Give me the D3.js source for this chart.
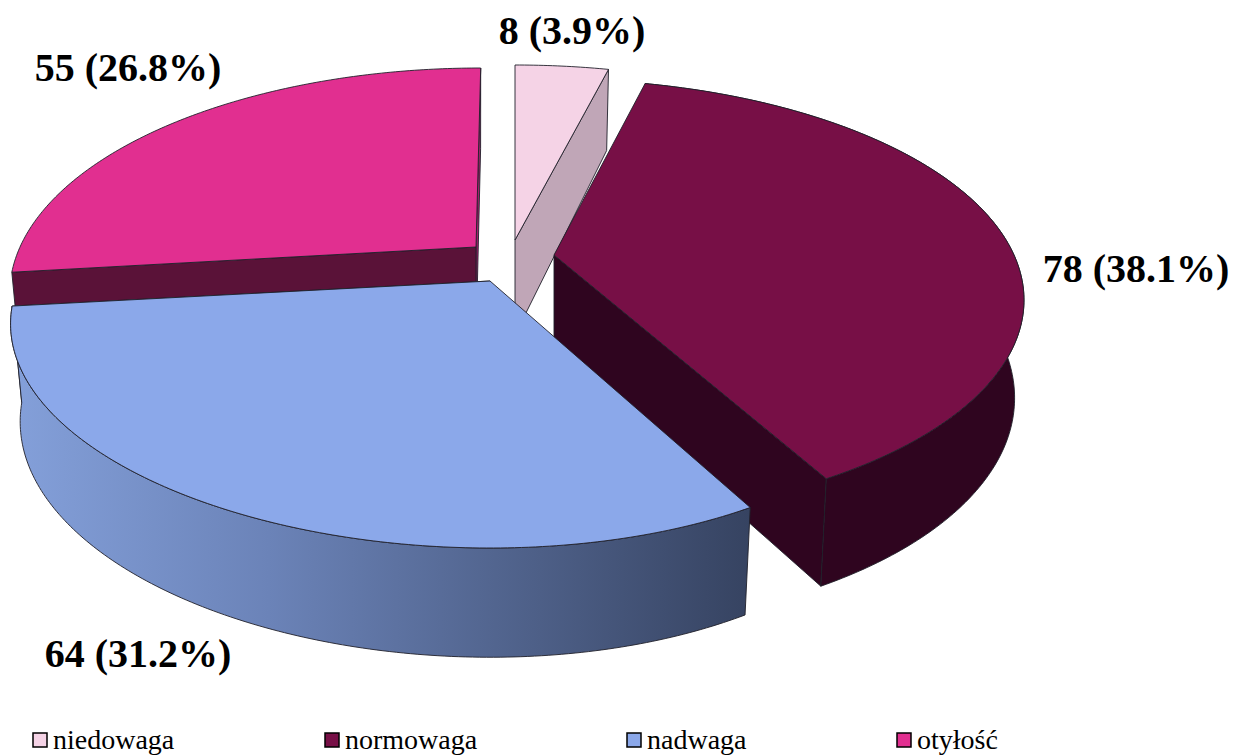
<!DOCTYPE html>
<html><head><meta charset="utf-8">
<script src="https://cdn.jsdelivr.net/npm/d3@7/dist/d3.min.js"></script>
<style>html,body{margin:0;padding:0;background:#fff}svg{display:block}</style>
</head><body><svg id="c" width="1248" height="756"></svg>
<script>
const categories = ["niedowaga","normowaga","nadwaga","otyłość"];
const values = [8,78,64,55];
const valueLabels = ["8 (3.9%)","78 (38.1%)","64 (31.2%)","55 (26.8%)"];
const topColors = ["#f5d3e6","#770f46","#8ba8ea","#e12f90"];
const startCutColors = [null,null,null,"#5a1238"];
const endCutColors = ["#c0a6b7","#2f051f","#3a4663","#a01f6c"];
const rimColors = [null,"#2f051f","url(#rimBlue)",null];
const apexX = [515,554,490,476];
const apexY = [240,255,281,247];
const radiusX = [460,460,452,456];
const radiusY = [210,211,213.6,214.8];
const asym = [0,0,0.04,0];
const shear = [0,2.5,0,-4.7];
const labelX = [572,1136,138,128];
const labelY = [44,282,667,81];
const legendX = [33,325,627,897];

const persp = 0.2, depth = 95, depthVar = 0.15, converge = 0.02;
const svg = d3.select("#c");
const pie = d3.pie().sort(null).value(d=>d)(values);

const g = svg.append("defs").append("linearGradient").attr("id","rimBlue").attr("gradientUnits","userSpaceOnUse")
  .attr("x1",10).attr("x2",750).attr("y1",0).attr("y2",0);
g.append("stop").attr("offset","0").attr("stop-color","#84a0da");
g.append("stop").attr("offset","0.35").attr("stop-color","#6b83b8");
g.append("stop").attr("offset","1").attr("stop-color","#364361");

function proj(i, t, low){
  const u = Math.sin(t), v = -Math.cos(t), s = 1/(1-persp*v);
  const dx = radiusX[i]*u*s*(1-asym[i]*u) + shear[i]*v, dy = radiusY[i]*v*s;
  if(!low) return [apexX[i]+dx, apexY[i]+dy];
  return [apexX[i]+dx*(1-converge), apexY[i]+dy+depth*(1+depthVar*v)];
}
function apex(i, low){ return low ? [apexX[i], apexY[i]+depth] : [apexX[i], apexY[i]]; }
const line = d3.line();
function arcPts(i,a,b,low){
  const n = Math.max(2, Math.ceil((b-a)*80));
  return d3.range(n+1).map(k=>proj(i,a+(b-a)*k/n,low));
}
function poly(pts,fill){
  svg.append("path").attr("d",line(pts)+"Z").attr("fill",fill)
    .attr("stroke","#20202a").attr("stroke-width",0.9).attr("stroke-linejoin","round");
}
[3,0,1,2].forEach(i=>{
  const {startAngle:a,endAngle:b} = pie[i];
  if(endCutColors[i]) poly([apex(i,false),proj(i,b,false),proj(i,b,true),apex(i,true)],endCutColors[i]);
  if(startCutColors[i]) poly([apex(i,false),proj(i,a,false),proj(i,a,true),apex(i,true)],startCutColors[i]);
  if(rimColors[i]){
    poly(arcPts(i,a,b,false).concat(arcPts(i,a,b,true).reverse()),rimColors[i]);
  }
  poly([apex(i,false)].concat(arcPts(i,a,b,false)),topColors[i]);
});

svg.selectAll("text.lab").data(valueLabels).join("text").attr("class","lab")
  .attr("x",(d,i)=>labelX[i]).attr("y",(d,i)=>labelY[i]).attr("text-anchor","middle")
  .attr("font-family","'Liberation Serif',serif").attr("font-weight","bold").attr("font-size",40)
  .attr("fill","#000").text(d=>d);

const leg = svg.selectAll("g.leg").data(categories).join("g").attr("class","leg")
  .attr("transform",(d,i)=>`translate(${legendX[i]},733)`);
leg.append("rect").attr("width",14).attr("height",14).attr("fill",(d,i)=>topColors[i])
  .attr("stroke","#000").attr("stroke-width",1.5);
leg.append("text").attr("x",20).attr("y",16).attr("font-family","'Liberation Serif',serif")
  .attr("font-size",28).attr("fill","#000").text(d=>d);
</script></body></html>
